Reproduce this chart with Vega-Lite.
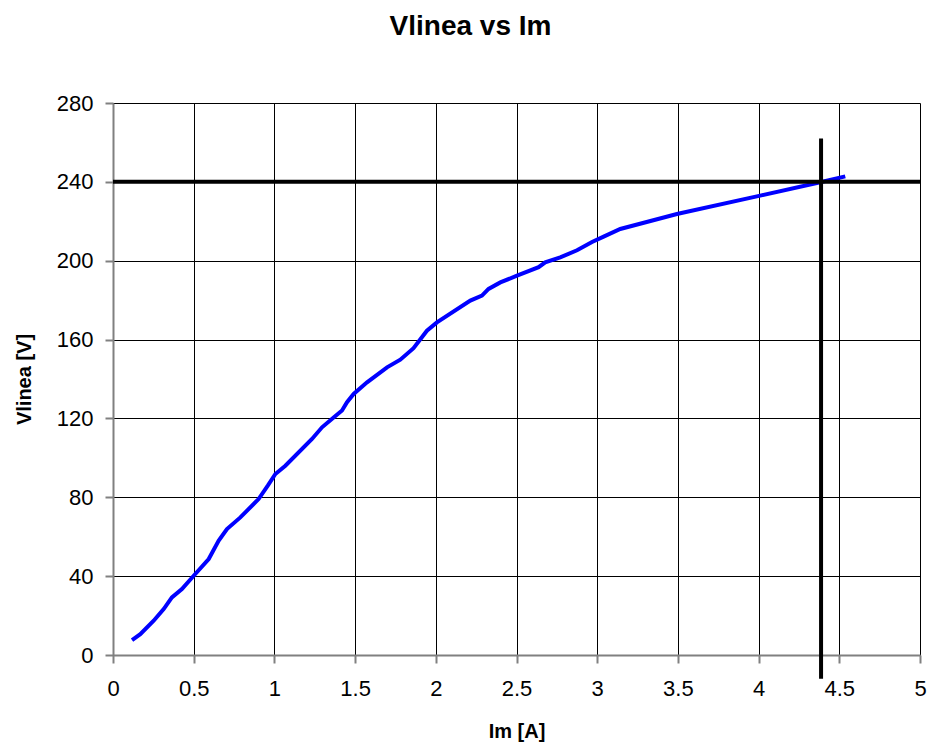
{
  "$schema": "https://vega.github.io/schema/vega-lite/v6.json",
  "autosize": {"type": "none"},
  "padding": {"left": 113, "top": 103, "right": 8, "bottom": 96},
  "width": 807,
  "height": 552,
  "background": "white",
  "title": {
    "text": "Vlinea vs Im",
    "font": "Liberation Sans",
    "fontSize": 28,
    "fontWeight": "bold",
    "color": "black",
    "anchor": "middle",
    "dx": -46,
    "offset": 51
  },
  "config": {
    "view": {"stroke": null},
    "axis": {
      "labelFont": "Liberation Sans",
      "labelFontSize": 22,
      "labelColor": "black",
      "titleFont": "Liberation Sans",
      "titleFontSize": 20,
      "titleFontWeight": "bold",
      "titleColor": "black",
      "grid": true,
      "gridColor": "black",
      "gridWidth": 1,
      "gridOpacity": 1,
      "domainColor": "#808080",
      "domainWidth": 2,
      "tickColor": "#808080",
      "tickWidth": 2,
      "tickSize": 8
    }
  },
  "datasets": {
    "curve": [
      {"im": 0.118, "v": 7.6},
      {"im": 0.169, "v": 10.6},
      {"im": 0.252, "v": 17.4},
      {"im": 0.314, "v": 23.3},
      {"im": 0.365, "v": 29.2},
      {"im": 0.427, "v": 33.5},
      {"im": 0.5, "v": 40.2},
      {"im": 0.593, "v": 48.7},
      {"im": 0.655, "v": 58.0},
      {"im": 0.706, "v": 63.9},
      {"im": 0.789, "v": 69.8},
      {"im": 0.902, "v": 79.1},
      {"im": 0.96, "v": 86.0},
      {"im": 1.006, "v": 91.8},
      {"im": 1.068, "v": 96.0},
      {"im": 1.233, "v": 109.6},
      {"im": 1.295, "v": 115.5},
      {"im": 1.367, "v": 120.5},
      {"im": 1.419, "v": 124.0},
      {"im": 1.45, "v": 128.2},
      {"im": 1.491, "v": 132.4},
      {"im": 1.574, "v": 138.3},
      {"im": 1.698, "v": 145.9},
      {"im": 1.78, "v": 149.8},
      {"im": 1.862, "v": 155.6},
      {"im": 1.945, "v": 164.5},
      {"im": 2.007, "v": 168.7},
      {"im": 2.214, "v": 179.8},
      {"im": 2.286, "v": 182.3},
      {"im": 2.327, "v": 185.7},
      {"im": 2.4, "v": 189.0},
      {"im": 2.503, "v": 192.4},
      {"im": 2.637, "v": 196.7},
      {"im": 2.678, "v": 199.2},
      {"im": 2.771, "v": 201.7},
      {"im": 2.875, "v": 205.3},
      {"im": 2.968, "v": 209.5},
      {"im": 3.04, "v": 212.2},
      {"im": 3.143, "v": 216.1},
      {"im": 3.494, "v": 223.7},
      {"im": 4.01, "v": 233.0},
      {"im": 4.382, "v": 239.8},
      {"im": 4.537, "v": 242.8}
    ],
    "hline": [{"v": 240, "x1": 0, "x2": 5}],
    "vline": [{"im": 4.387, "y1": -12, "y2": 262}]
  },
  "layer": [
    {
      "data": {"name": "curve"},
      "mark": {"type": "line", "color": "#0000FF", "strokeWidth": 4, "clip": false},
      "encoding": {
        "x": {
          "field": "im", "type": "quantitative",
          "scale": {"domain": [0, 5], "nice": false, "zero": false},
          "axis": {"values": [0, 0.5, 1, 1.5, 2, 2.5, 3, 3.5, 4, 4.5, 5], "format": "~g", "title": "Im [A]", "labelPadding": 15, "titlePadding": 22, "labelFlush": false}
        },
        "y": {
          "field": "v", "type": "quantitative",
          "scale": {"domain": [0, 280], "nice": false},
          "axis": {"values": [0, 40, 80, 120, 160, 200, 240, 280], "title": "Vlinea [V]", "labelPadding": 12, "titlePadding": 22}
        }
      }
    },
    {
      "data": {"name": "hline"},
      "mark": {"type": "rule", "color": "black", "strokeWidth": 4, "clip": false},
      "encoding": {
        "y": {"field": "v", "type": "quantitative"},
        "x": {"field": "x1", "type": "quantitative"},
        "x2": {"field": "x2"}
      }
    },
    {
      "data": {"name": "vline"},
      "mark": {"type": "rule", "color": "black", "strokeWidth": 4, "clip": false},
      "encoding": {
        "x": {"field": "im", "type": "quantitative"},
        "y": {"field": "y1", "type": "quantitative"},
        "y2": {"field": "y2"}
      }
    }
  ]
}
